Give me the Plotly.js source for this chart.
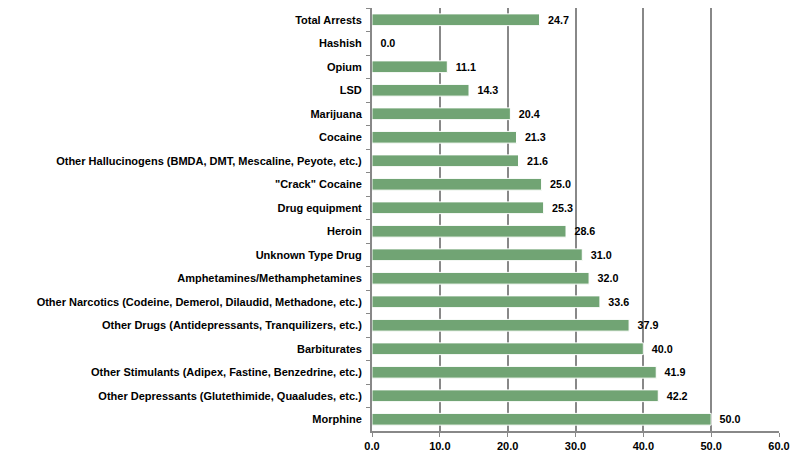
<!DOCTYPE html>
<html><head><meta charset="utf-8">
<script src="https://cdn.plot.ly/plotly-3.0.1.min.js"></script>
<style>html,body{margin:0;padding:0;background:#fff}#chart{width:794px;height:462px}</style>
</head><body><div id="chart"></div>
<script>
const categories = [
  "Total Arrests",
  "Hashish",
  "Opium",
  "LSD",
  "Marijuana",
  "Cocaine",
  "Other Hallucinogens (BMDA, DMT, Mescaline, Peyote, etc.)",
  "\"Crack\" Cocaine",
  "Drug equipment",
  "Heroin",
  "Unknown Type Drug",
  "Amphetamines/Methamphetamines",
  "Other Narcotics (Codeine, Demerol, Dilaudid, Methadone, etc.)",
  "Other Drugs (Antidepressants, Tranquilizers, etc.)",
  "Barbiturates",
  "Other Stimulants (Adipex, Fastine, Benzedrine, etc.)",
  "Other Depressants (Glutethimide, Quaaludes, etc.)",
  "Morphine"
];
const values = [24.7, 0.0, 11.1, 14.3, 20.4, 21.3, 21.6, 25.0, 25.3, 28.6, 31.0, 32.0, 33.6, 37.9, 40.0, 41.9, 42.2, 50.0];
const xTicks = [0, 10, 20, 30, 40, 50, 60];

const fontFam = "'Liberation Sans', Arial, sans-serif";
Plotly.newPlot('chart', [{
  type: 'bar',
  orientation: 'h',
  y: categories,
  x: values,
  marker: {color: '#71a474', line: {color: '#ffffff', width: 1}},
  text: values.map(v => '\u2002' + v.toFixed(1)),
  textposition: 'outside',
  cliponaxis: false,
  textfont: {family: fontFam, size: 11, color: '#000', weight: 'bold'},
  hoverinfo: 'none'
}], {
  width: 794, height: 462,
  margin: {l: 372, r: 15, t: 8, b: 31},
  paper_bgcolor: '#fff', plot_bgcolor: '#fff',
  bargap: 0.5,
  showlegend: false,
  font: {family: fontFam, size: 11, color: '#000', weight: 'bold'},
  xaxis: {
    range: [0, 60], tickvals: xTicks, ticktext: xTicks.map(v => v.toFixed(1)),
    showgrid: true, gridcolor: '#888888', gridwidth: 2,
    showline: true, linecolor: '#888888', linewidth: 2,
    ticks: 'outside', ticklen: 4, tickcolor: '#888888',
    zeroline: false, fixedrange: true,
    tickfont: {family: fontFam, size: 11, color: '#000', weight: 'bold'}
  },
  yaxis: {
    autorange: 'reversed', type: 'category',
    showline: true, linecolor: '#888888', linewidth: 2,
    ticks: 'outside', tickson: 'boundaries', ticklen: 4, tickcolor: '#888888',
    showgrid: false, fixedrange: true, ticklabelstandoff: 6,
    tickfont: {family: fontFam, size: 11, color: '#000', weight: 'bold'}
  }
}, {staticPlot: true});
</script></body></html>
